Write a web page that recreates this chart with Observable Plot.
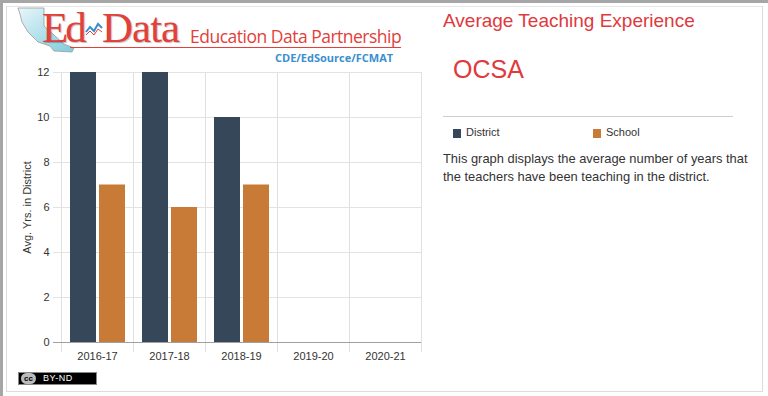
<!DOCTYPE html>
<html>
<head>
<meta charset="utf-8">
<script src="https://cdn.jsdelivr.net/npm/d3@7"></script>
<script src="https://cdn.jsdelivr.net/npm/@observablehq/plot@0.6"></script>
<style>
  html, body { margin: 0; padding: 0; background: #fff; }
  body { width: 768px; height: 396px; position: relative; overflow: hidden; font-family: "Liberation Sans", Arial, sans-serif; }
  #outer { position: absolute; left: 0; top: 0; width: 768px; height: 396px; border-top: 3px solid #a6a6a6; border-left: 3px solid #a6a6a6; box-sizing: border-box; }
  #inner { position: absolute; left: 6px; top: 6px; width: 757px; height: 386px; border: 1px solid #dcdcdc; box-sizing: border-box; border-top-color: #e6e6e6; }
  #chart { position: absolute; left: 0; top: 60px; }
  .abs { position: absolute; white-space: nowrap; }
  #title { left: 443px; top: 10px; font-size: 19px; color: #e0393e; }
  #org { left: 453px; top: 55px; font-size: 25px; color: #e0393e; }
  #hr { left: 443px; top: 116px; width: 290px; height: 0; border-top: 1px solid #cfcfcf; }
  .legsw { position: absolute; width: 8px; height: 9px; }
  .legtx { position: absolute; font-size: 11px; color: #333; }
  #desc { left: 443px; top: 150px; font-size: 12.9px; line-height: 18px; color: #333; white-space: normal; width: 312px; }
  .serif { font-family: "Liberation Serif", "DejaVu Serif", serif; font-size: 43px; line-height: 43px; color: #e2403a; text-shadow: 1px 1px 1px rgba(0,0,0,0.25); }
  #logo-ed { left: 42px; top: 6px; letter-spacing: -3px; }
  #logo-data { left: 102px; top: 6px; letter-spacing: -1px; }
  #logo-sub { left: 190px; top: 24px; font-family: "Open Sans", "Noto Sans", sans-serif; font-size: 17.5px; letter-spacing: -0.5px; color: #e2403a; }
  #logo-line { left: 70px; top: 47px; width: 331px; height: 0; border-top: 1.5px solid #e2403a; }
  #logo-cde { left: 275px; top: 50px; font-family: "Open Sans", "Noto Sans", sans-serif; font-weight: bold; font-size: 11px; color: #3a8fd0; }
  #cc { left: 18px; top: 372px; width: 79px; height: 13px; background: #000; border: 1px solid #888; box-sizing: border-box; font-size: 9px; color: #fff; }
  #cc .c { position: absolute; left: 2px; top: 0px; width: 15px; height: 11px; background: #bbb; border-radius: 6px; color: #000; font-size: 8px; font-weight: bold; text-align: center; line-height: 11px; }
  #cc .t { position: absolute; left: 24px; top: 0px; line-height: 11px; letter-spacing: 0.5px; }
</style>
</head>
<body>
<div id="outer"></div>
<div id="inner"></div>

<svg class="abs" style="left:14px;top:6px" width="70" height="48" viewBox="0 0 70 48">
  <defs>
    <linearGradient id="ca" x1="0" y1="0" x2="1" y2="1">
      <stop offset="0" stop-color="#e8f6fa"/>
      <stop offset="1" stop-color="#7fcbdc"/>
    </linearGradient>
  </defs>
  <path d="M4,2 L30,2 L30,20 L50,38 L60,42 L58,46 L40,45 L36,40 L24,36 L14,26 L8,16 L6,8 Z" fill="url(#ca)" stroke="#9a9a9a" stroke-width="0.8"/>
</svg>
<div class="abs serif" id="logo-ed">Ed</div>
<svg class="abs" style="left:85px;top:22px" width="18" height="16" viewBox="0 0 18 16">
  <polyline points="1,10 5,5 9,9 13,2 17,6" fill="none" stroke="#3a8fd0" stroke-width="2"/>
  <polyline points="1,13 5,9 9,13 13,7 17,10" fill="none" stroke="#e2403a" stroke-width="1"/>
</svg>
<div class="abs serif" id="logo-data">Data</div>
<div class="abs" id="logo-sub">Education Data Partnership</div>
<div class="abs" id="logo-line"></div>
<div class="abs" id="logo-cde">CDE/EdSource/FCMAT</div>

<div id="chart"></div>

<div class="abs" id="title">Average Teaching Experience</div>
<div class="abs" id="org">OCSA</div>
<div class="abs" id="hr"></div>
<div id="legend"></div>
<div class="abs" id="desc">This graph displays the average number of years that the teachers have been teaching in the district.</div>
<div class="abs" id="cc"><span class="c">cc</span><span class="t">BY-ND</span></div>

<script>
// ---- data ----
const years = ["2016-17", "2017-18", "2018-19", "2019-20", "2020-21"];
const district = [12, 12, 10, null, null];
const school = [7, 6, 7, null, null];
const seriesNames = ["District", "School"];
const seriesColors = ["#37475a", "#c87b37"];
const yTicks = [0, 2, 4, 6, 8, 10, 12];
const yLabel = "Avg. Yrs. in District";

// ---- layout ----
const W = 440, H = 310, ML = 61, MR = 19, MT = 12, MB = 28;
const band = (W - ML - MR) / years.length;

const rows = years.map((y, i) => ({year: y, district: district[i], school: school[i]}));
const dRows = rows.filter(d => d.district != null);
const sRows = rows.filter(d => d.school != null);

const plot = Plot.plot({
  width: W,
  height: H,
  marginLeft: ML,
  marginRight: MR,
  marginTop: MT,
  marginBottom: MB,
  style: {fontFamily: "'Liberation Sans', Arial, sans-serif", fontSize: "11px", color: "#333", background: "transparent"},
  x: {domain: years, padding: 0, label: null},
  y: {domain: [0, 12], label: null},
  marks: [
    Plot.ruleY(yTicks, {y: d => d, stroke: "#e3e3e3", insetLeft: -8}),
    Plot.ruleX(years, {x: d => d, dx: -band / 2, stroke: "#e0e0e0", insetBottom: -10}),
    Plot.ruleX(years.slice(-1), {x: d => d, dx: band / 2, stroke: "#e0e0e0", insetBottom: -10}),
    Plot.barY(dRows, {x: "year", y: "district", fill: seriesColors[0], insetLeft: band * 0.125, insetRight: band - band * 0.125 - 26}),
    Plot.barY(sRows, {x: "year", y: "school", fill: seriesColors[1], insetLeft: band * 0.125 + 29, insetRight: band - band * 0.125 - 55}),
    Plot.ruleY([0], {stroke: "#a0a0a0", insetLeft: -8}),
    Plot.axisX({tickSize: 0, tickPadding: 10, label: null}),
    Plot.axisY({ticks: yTicks, tickSize: 0, tickPadding: 12, label: yLabel, labelAnchor: "center", labelOffset: 38, labelArrow: "none"})
  ]
});
document.getElementById("chart").appendChild(plot);

// legend
const legend = document.getElementById("legend");
const legX = [453, 593];
seriesNames.forEach((name, i) => {
  const sw = document.createElement("div");
  sw.className = "legsw";
  sw.style.left = legX[i] + "px";
  sw.style.top = "129px";
  sw.style.background = seriesColors[i];
  legend.appendChild(sw);
  const tx = document.createElement("div");
  tx.className = "legtx";
  tx.style.left = (legX[i] + 13) + "px";
  tx.style.top = "126px";
  tx.textContent = name;
  legend.appendChild(tx);
});
</script>
</body>
</html>
